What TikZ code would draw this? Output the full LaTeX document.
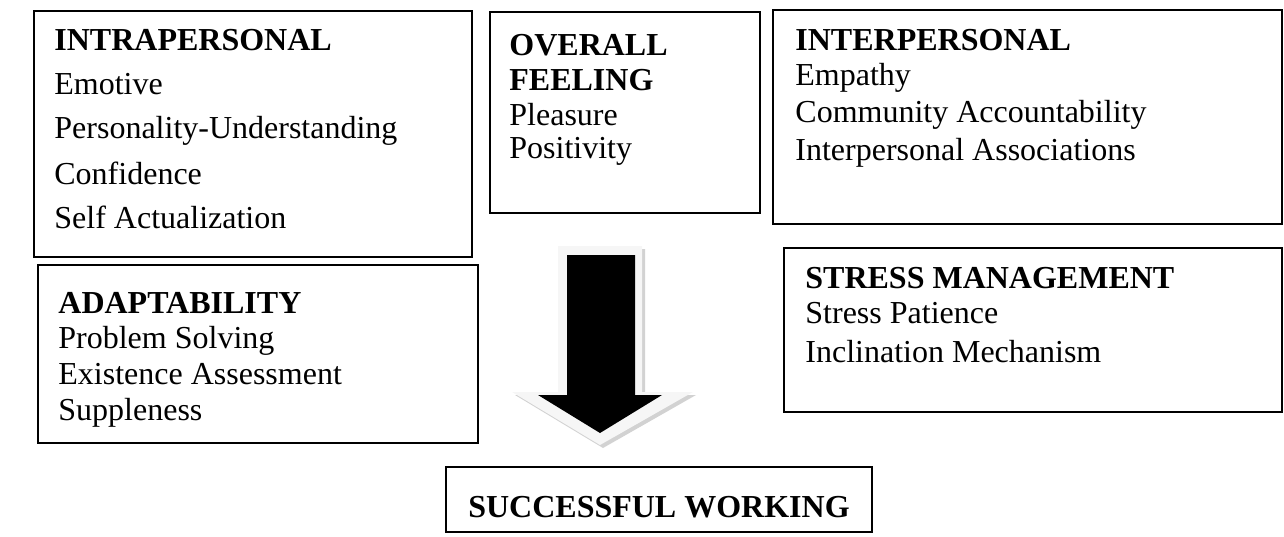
\documentclass[tikz,border=0pt]{standalone}
\usepackage{fontspec}
\setmainfont{Liberation Serif}
\begin{document}
\begin{tikzpicture}[x=0.5pt,y=-0.5pt,
  box/.style={draw=black,line width=1pt},
  txt/.style={anchor=base west,inner sep=0pt,font=\fontsize{16}{19}\selectfont},
  hd/.style={txt,font=\fontsize{16}{19}\selectfont\bfseries}]
\useasboundingbox (0,0) rectangle (1284,536);
% boxes
\draw[box] (34,11) rectangle (472,257);
\draw[box] (490,12) rectangle (760,213);
\draw[box] (773,10) rectangle (1282,224);
\draw[box] (38,265) rectangle (478,443);
\draw[box] (784,248) rectangle (1282,412);
\draw[box] (446,467) rectangle (872,532);
% intrapersonal
\node[hd]  (ia) at (54,50)  {INTRAPERSONAL};
\node[txt] (ib) at (54,94)  {Emotive};
\node[txt] (ic) at (54,138) {Personality-Understanding};
\node[txt] (id) at (54,184) {Confidence};
\node[txt] (ie) at (54,228) {Self Actualization};
% overall feeling
\node[hd]  (oa) at (509,55)  {OVERALL};
\node[hd]  (ob) at (509,90)  {FEELING};
\node[txt] (oc) at (509,125) {Pleasure};
\node[txt] (od) at (509,158) {Positivity};
% interpersonal
\node[hd]  (pa) at (795,50)  {INTERPERSONAL};
\node[txt] (pb) at (795,85)  {Empathy};
\node[txt] (pc) at (795,122) {Community Accountability};
\node[txt] (pd) at (795,160) {Interpersonal Associations};
% adaptability
\node[hd]  (aa) at (58,313) {ADAPTABILITY};
\node[txt] (ab) at (58,348) {Problem Solving};
\node[txt] (ac) at (58,384) {Existence Assessment};
\node[txt] (ad) at (58,420) {Suppleness};
% stress management
\node[hd]  (sa) at (805,288) {STRESS MANAGEMENT};
\node[txt] (sb) at (805,323) {Stress Patience};
\node[txt] (sc) at (805,362) {Inclination Mechanism};
% successful working
\node[hd,anchor=base] (sw) at (659,517) {SUCCESSFUL WORKING};
% arrow
\fill[gray!35] (561,249) -- (645,249) -- (645,395) -- (696,395) -- (603,448) -- (515,395) -- (561,395) -- cycle;
\fill[gray!7] (558,246) -- (642,246) -- (642,392) -- (693,392) -- (600,445) -- (512,392) -- (558,392) -- cycle;
\fill[black] (567,255) -- (635,255) -- (635,395) -- (662,395) -- (600,433) -- (538,395) -- (567,395) -- cycle;
\end{tikzpicture}
\end{document}
